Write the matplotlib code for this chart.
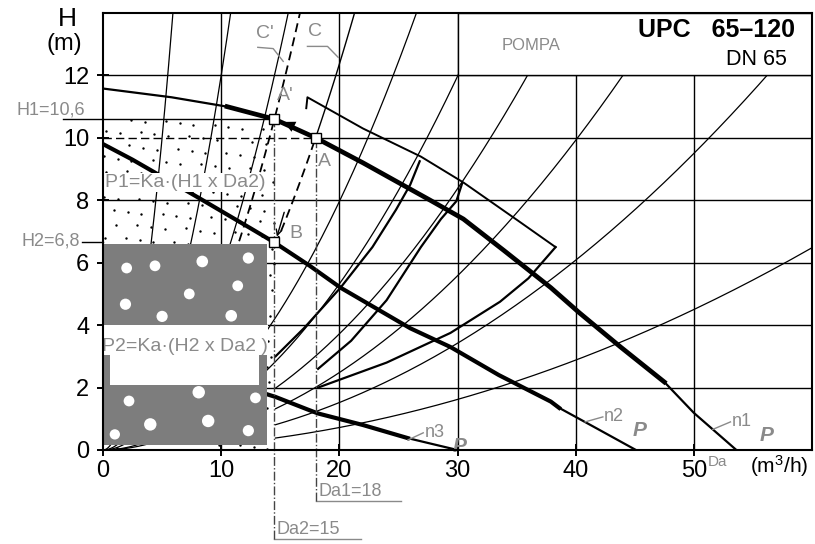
import numpy as np
import matplotlib.pyplot as plt
from matplotlib.patches import Rectangle

plt.rcParams['font.family'] = ['Liberation Sans', 'DejaVu Sans']
plt.rcParams['mathtext.default'] = 'regular'

# -----------------------------
# Pump curves (Q in m3/h, H in m)
# -----------------------------
n1_q = [0, 5.8, 10.5, 14.5, 18, 22, 27.7, 30.5, 33.9, 37.9, 40.3, 43.8, 47.5, 50.0, 53.6]
n1_h = [11.58, 11.3, 11.0, 10.6, 10.0, 9.2, 8.0, 7.4, 6.4, 5.2, 4.4, 3.3, 2.18, 1.19, 0]

n2_q = [0, 2.5, 8, 12.5, 14.5, 17.5, 20.1, 26, 29.4, 33.5, 37.9, 38.6, 41.5, 45.1]
n2_h = [9.8, 9.3, 8.1, 7.1, 6.65, 5.9, 5.2, 3.9, 3.3, 2.4, 1.55, 1.35, 0.75, 0]

n3_q = [0, 7, 14.6, 17.3, 18.2, 22, 25.8, 28, 30]
n3_h = [3.3, 2.6, 1.7, 1.3, 1.17, 0.8, 0.38, 0.18, 0]

# system curves H = k * Q^2
sys_k = [0.40, 0.12, 0.057, 0.0199, 0.0133, 0.0093, 0.0062, 0.0038, 0.0018]
k_c = 0.0309      # curve C through A
k_c2 = 0.0504     # curve C' through A'

# regulation curves and outline of the field
f1_q = [14.6, 17, 20.1, 22.8, 24.8, 26.0, 26.8]
f1_h = [3.0, 3.9, 5.2, 6.5, 7.7, 8.5, 9.25]
f2_q = [18.2, 21, 24, 26.9, 28.6, 29.9, 30.4]
f2_h = [2.6, 3.5, 4.8, 6.5, 7.4, 7.97, 8.55]
f3_q = [18.2, 24, 29.4, 33.6, 36, 38.3]
f3_h = [2.0, 2.8, 3.75, 4.75, 5.5, 6.5]
edge_q = [17.2, 17.3, 22, 26.9, 30.5, 35.3, 38.3]
edge_h = [10.95, 11.3, 10.3, 9.4, 8.57, 7.3, 6.5]

# operating points
Da1, Da2 = 18, 14.5
H1, H2 = 10.6, 6.65
HA = 10.0

# white dots in the P2 area
dot_x = [2.0, 4.4, 8.4, 12.3, 11.4, 7.3, 1.9, 5.0, 10.85, 8.1, 2.2, 12.9, 4.0, 8.9, 1.0, 12.3]
dot_h = [5.83, 5.9, 6.04, 6.15, 5.26, 5.0, 4.67, 4.28, 4.3, 1.85, 1.57, 1.67, 0.82, 0.93, 0.5, 0.62]
dot_s = [60, 60, 70, 65, 60, 60, 65, 65, 70, 80, 60, 60, 80, 80, 55, 65]

x_ticks = [0, 10, 20, 30, 40, 50]
y_ticks = [0, 2, 4, 6, 8, 10, 12]

grey = '#8a8a8a'

fig = plt.figure(figsize=(8.15, 5.44), dpi=100)
ax = fig.add_axes([0.1264, 0.1728, 0.8699, 0.8033])
ax.set_xlim(0, 60)
ax.set_ylim(0, 14)

# grid
for x in [10, 20, 30, 40, 50]:
    top = 12 if x > 30 else 14
    ax.plot([x, x], [0, top], color='k', lw=1.0, zorder=1)
for y in [2, 4, 6, 8, 12]:
    ax.plot([0, 60], [y, y], color='k', lw=1.0, zorder=1)
ax.plot([0, Da1], [10, 10], color='k', lw=1.0, ls=(0, (6, 3)), zorder=1)
ax.plot([Da1, 60], [10, 10], color='k', lw=1.0, zorder=1)

# P1 dotted area (low-discrepancy stipple texture)
g = 1.32471795724
i = np.arange(1, 261)
sx = ((0.5 + i / g) % 1) * Da2
sy = ((0.5 + i / g ** 2) % 1) * H1
ax.scatter(sx, sy, s=3, color='k', lw=0, zorder=0.6)

# system curves
for k in sys_k:
    q0 = 14.6 if k < 0.01 else 0
    q = np.linspace(q0, min(np.sqrt(14 / k), 60), 200)
    ax.plot(q, k * q ** 2, color='k', lw=0.9, zorder=2)

q = np.linspace(Da1, np.sqrt(14 / k_c), 50)
ax.plot(q, k_c * q ** 2, color='k', lw=1.0, zorder=2)
q = np.linspace(Da2 + 0.1, Da1, 30)
ax.plot(q, k_c * q ** 2, color='k', lw=1.3, ls=(0, (5, 3)), zorder=2)
q = np.linspace(9, np.sqrt(14 / k_c2), 50)
ax.plot(q, k_c2 * q ** 2, color='k', lw=1.3, ls=(0, (5, 3)), zorder=2)

# regulation curves
for fq, fh in [(f1_q, f1_h), (f2_q, f2_h), (f3_q, f3_h)]:
    ax.plot(fq, fh, color='k', lw=1.6, zorder=2)
ax.plot(edge_q, edge_h, color='k', lw=1.4, zorder=2)

# pump curves
n1_q, n1_h = np.array(n1_q), np.array(n1_h)
n2_q, n2_h = np.array(n2_q), np.array(n2_h)
n3_q, n3_h = np.array(n3_q), np.array(n3_h)
ax.plot(n1_q, n1_h, color='k', lw=1.6, zorder=3)
m = (n1_q >= 10.5) & (n1_q <= 47.5)
ax.plot(n1_q[m], n1_h[m], color='k', lw=3.4, zorder=3)
ax.plot(n2_q, n2_h, color='k', lw=1.6, zorder=3)
m = n2_q <= 38.6
ax.plot(n2_q[m], n2_h[m], color='k', lw=3.0, zorder=3)
ax.plot(n3_q, n3_h, color='k', lw=1.6, zorder=3)
m = n3_q <= 25.8
ax.plot(n3_q[m], n3_h[m], color='k', lw=3.0, zorder=3)

# P2 grey area with white dots
ax.add_patch(Rectangle((0.05, 0.16), 13.85, 6.45, facecolor='#7d7d7d', lw=0, zorder=4))
ax.scatter(dot_x, dot_h, s=dot_s, color='white', lw=0, zorder=5)
ax.add_patch(Rectangle((0.0, 3.05), 13.95, 0.95, facecolor='white', lw=0, zorder=5))
ax.add_patch(Rectangle((0.6, 2.08), 12.6, 1.0, facecolor='white', lw=0, zorder=5))
ax.text(6.95, 3.3, 'P2=Ka·(H2 x Da2 )', color=grey, fontsize=14,
        ha='center', va='center', zorder=6)
ax.text(7.0, 8.57, 'P1=Ka·(H1 x Da2)', color=grey, fontsize=14, ha='center', va='center',
        zorder=6, bbox=dict(facecolor='white', edgecolor='none', pad=1))

# pump box
ax.add_patch(Rectangle((30, 12), 30, 2, facecolor='white', edgecolor='k', lw=1.0, zorder=4))
ax.text(36.2, 12.96, 'POMPA', color=grey, fontsize=12, ha='center', va='center', zorder=6)
ax.text(51.9, 13.44, 'UPC   65\u2013120', fontsize=18, fontweight='bold', ha='center',
        va='center', zorder=6)
ax.text(55.3, 12.5, 'DN 65', fontsize=15.5, ha='center', va='center', zorder=6)

# Da and H construction lines
ax.plot([Da1, Da1], [-1.62, HA], color='#444444', lw=1.0, ls='-.', zorder=3, clip_on=False)
ax.plot([Da2, Da2], [-2.85, H1], color='#444444', lw=1.0, ls='-.', zorder=3, clip_on=False)
ax.plot([Da1, 25.2], [-1.62, -1.62], color=grey, lw=1.0, clip_on=False)
ax.plot([Da2, 21.8], [-2.85, -2.85], color=grey, lw=1.0, clip_on=False)
ax.text(Da1 + 0.2, -1.6, 'Da1=18', color=grey, fontsize=13, va='bottom')
ax.text(Da2 + 0.2, -2.83, 'Da2=15', color=grey, fontsize=13, va='bottom')
ax.plot([-3.4, Da2], [H1, H1], color='k', lw=1.0, zorder=3, clip_on=False)
ax.plot([-1.8, 0], [H2, H2], color='k', lw=1.0, clip_on=False)
ax.text(-1.5, H1 + 0.02, 'H1=10,6', color=grey, fontsize=13, ha='right', va='bottom')
ax.text(-1.95, H2 + 0.05, 'H2=6,8', color=grey, fontsize=13, ha='right', va='center')

# operating points
ax.plot([Da2, Da1, Da2], [H1, HA, H2], 's', ms=7, mfc='white', mec='k', mew=1.0, zorder=7)
ax.text(15.4, 11.35, "A'", color=grey, fontsize=14, ha='center', va='center')
ax.text(18.7, 9.24, 'A', color=grey, fontsize=14, ha='center', va='center')
ax.text(16.35, 6.93, 'B', color=grey, fontsize=14, ha='center', va='center')
ax.annotate('', xy=(15.1, 10.55), xytext=(17.0, 10.2),
            arrowprops=dict(arrowstyle='-|>', color='k', lw=0, mutation_scale=20), zorder=7)
ax.annotate('', xy=(14.65, 6.75), xytext=(15.4, 7.7),
            arrowprops=dict(arrowstyle='->', color='k', lw=1.0), zorder=7)

# curve labels
ax.plot([13.1, 14.4, 15.25], [12.9, 12.86, 12.45], color=grey, lw=1.0)
ax.text(13.7, 13.35, "C'", color=grey, fontsize=14, ha='center', va='center')
ax.plot([17.3, 19.0, 19.9], [12.93, 12.93, 12.58], color=grey, lw=1.0)
ax.text(17.9, 13.4, 'C', color=grey, fontsize=14, ha='center', va='center')

for lq, lh, tq, th, name in [(51.6, 0.66, 53.1, 0.9, 'n1'), (40.8, 0.9, 42.3, 1.06, 'n2'),
                             (25.8, 0.32, 27.1, 0.55, 'n3')]:
    ax.plot([lq, tq], [lh, th], color=grey, lw=1.0, zorder=6)
    ax.text(tq + 0.1, th, name, color=grey, fontsize=13, va='center', zorder=6)
    ax.text(tq + 2.5, th - 0.45, 'P', color=grey, fontsize=15, fontweight='bold',
            style='italic', va='center', zorder=6)

# axes text
ax.text(-3.0, 13.8, 'H', fontsize=19, ha='center', va='center', clip_on=False)
ax.text(-3.3, 13.0, '(m)', fontsize=17, ha='center', va='center', clip_on=False)
ax.text(52.0, -0.38, 'Da', color=grey, fontsize=11, ha='center', va='center', clip_on=False)
ax.text(57.2, -0.5, '(m$^3$/h)', fontsize=15, ha='center', va='center', clip_on=False)

ax.set_xticks(x_ticks)
ax.set_yticks(y_ticks)
ax.tick_params(labelsize=17, width=1.4, length=8, direction='inout', pad=3)
ax.tick_params(axis='y', pad=6)
for s in ax.spines.values():
    s.set_linewidth(1.5)
    s.set_zorder(8)

fig.savefig('out.png', dpi=100)
